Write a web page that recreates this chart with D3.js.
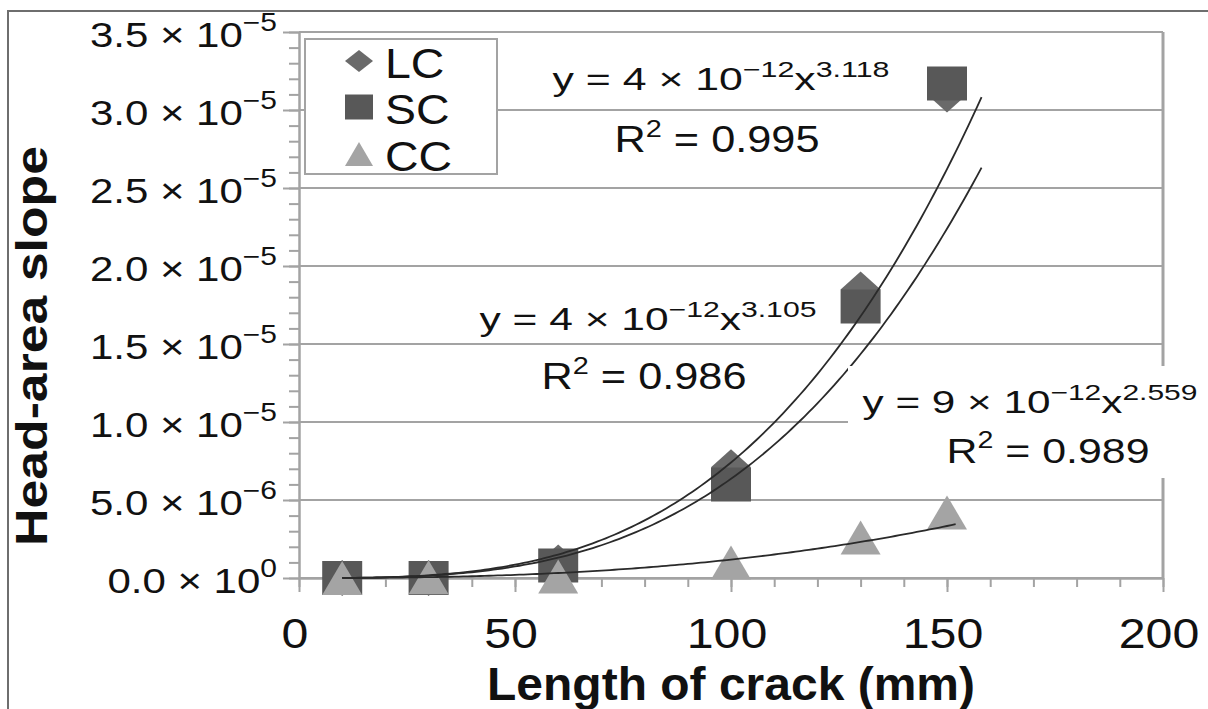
<!DOCTYPE html>
<meta charset="utf-8">
<style>
  body { margin: 0; background: #fff; }
  svg text { font-family: "Liberation Sans", Arial, sans-serif; fill: #111; }
  .grid line { stroke: #a3a3a3; stroke-width: 2; }
  .axis path, .axis line { stroke: #a3a3a3; stroke-width: 2; }
  .trend { fill: none; stroke: #2a2a2a; stroke-width: 1.8; }
</style>
<body></body>
<script src="https://cdn.jsdelivr.net/npm/d3@7"></script>
<script>

// data
var crackLength = [10, 30, 60, 100, 130, 150];
var lcSlope = [0, 0, 1.0e-6, 7.1e-6, 18.5e-6, 31.0e-6];
var scSlope = [0, 0, 0.8e-6, 6.0e-6, 17.4e-6, 31.7e-6];
var ccSlope = [0, 0.05e-6, 0.1e-6, 1.0e-6, 2.6e-6, 4.2e-6];

var seriesNames = ["LC", "SC", "CC"];

var xTicks = [0, 50, 100, 150, 200];
var yTicks = [0, 5e-6, 1e-5, 1.5e-5, 2e-5, 2.5e-5, 3e-5, 3.5e-5];
var yTickMant = ["0.0", "5.0", "1.0", "1.5", "2.0", "2.5", "3.0", "3.5"];
var yTickExp = ["0", "\u22126", "\u22125", "\u22125", "\u22125", "\u22125", "\u22125", "\u22125"];

// power trendlines y = a x^b (coefficients as drawn)
var fitSeries = ["SC", "LC", "CC"];
var fitA = [4.3e-12, 3.92e-12, 9e-12];
var fitB = [3.118, 3.105, 2.559];
var fitEnd = [158, 158, 152];
var fitCoefText = ["4", "4", "9"];
var fitExpText = ["3.118", "3.105", "2.559"];
var fitR2Text = ["0.995", "0.986", "0.989"];

var W = 1208, H = 709;
var plot = {left: 299, right: 1163, top: 32, bottom: 578};

var svg = d3.select("body").append("svg")
    .attr("width", W).attr("height", H);

svg.append("rect").attr("width", W).attr("height", H).attr("fill", "#fff");

// outer frame
svg.append("path")
    .attr("d", "M8," + H + "V11H" + W)
    .attr("fill", "none").attr("stroke", "#6e6e6e").attr("stroke-width", 2);

var x = d3.scaleLinear().domain([0, 200]).range([plot.left, plot.right]);
var y = d3.scaleLinear().domain([0, 3.5e-5]).range([plot.bottom, plot.top]);

// gridlines
svg.append("g").attr("class", "grid")
  .selectAll("line").data(yTicks).enter().append("line")
    .attr("x1", plot.left).attr("x2", plot.right)
    .attr("y1", function(d) { return y(d); })
    .attr("y2", function(d) { return y(d); });

// right border
svg.append("line")
    .attr("x1", plot.right).attr("x2", plot.right)
    .attr("y1", plot.top).attr("y2", plot.bottom)
    .attr("stroke", "#a3a3a3").attr("stroke-width", 3);

// axes: major + minor ticks
svg.append("g").attr("class", "axis")
    .attr("transform", "translate(" + plot.left + ",0)")
    .call(d3.axisLeft(y).tickValues(d3.range(0, 36).map(function(i) { return i * 1e-6; }))
      .tickSize(10).tickSizeOuter(0).tickFormat(""));
svg.append("g").attr("class", "axis")
    .attr("transform", "translate(" + plot.left + ",0)")
    .call(d3.axisLeft(y).tickValues(yTicks).tickSize(16).tickSizeOuter(0).tickFormat(""));

svg.append("g").attr("class", "axis")
    .attr("transform", "translate(0," + plot.bottom + ")")
    .call(d3.axisBottom(x).tickValues(d3.range(0, 201, 10)).tickSize(9).tickSizeOuter(0).tickFormat(""));
svg.append("g").attr("class", "axis")
    .attr("transform", "translate(0," + plot.bottom + ")")
    .call(d3.axisBottom(x).tickValues(xTicks).tickSize(14).tickSizeOuter(0).tickFormat(""));

svg.selectAll(".axis text").remove();

// y tick labels  "m × 10^e"
yTicks.forEach(function(v, i) {
  var t = svg.append("text")
      .attr("text-anchor", "end")
      .attr("transform", "translate(277," + (y(v) + 15) + ") scale(1.2,1)")
      .style("font-size", "35px");
  t.append("tspan").text(yTickMant[i] + " \u00d7 10");
  t.append("tspan").attr("dy", -16).style("font-size", "25px").text(yTickExp[i]);
});

// x tick labels
svg.selectAll("text.xt").data(xTicks).enter().append("text")
    .attr("class", "xt")
    .attr("text-anchor", "middle")
    .attr("transform", function(d) { return "translate(" + (x(d) - 4) + ",648) scale(1.15,1)"; })
    .style("font-size", "42px")
    .text(function(d) { return d; });

// markers
function shape(kind, w, h) {
  return {draw: function(ctx) {
    var a = w / 2, b = h / 2;
    if (kind === "diamond") {
      ctx.moveTo(0, -b); ctx.lineTo(a, 0); ctx.lineTo(0, b); ctx.lineTo(-a, 0); ctx.closePath();
    } else if (kind === "square") {
      ctx.rect(-a, -b, w, h);
    } else {
      ctx.moveTo(0, -b); ctx.lineTo(a, b); ctx.lineTo(-a, b); ctx.closePath();
    }
  }};
}

var markKind = {LC: "diamond", SC: "square", CC: "triangle"};
var markFill = {LC: "#6a6a6a", SC: "#585858", CC: "#a4a4a4"};
var markSize = {LC: [40, 36], SC: [40, 34], CC: [40, 34]};
var legendSize = {LC: [28, 22], SC: [28, 25], CC: [28, 24]};
var values = {LC: lcSlope, SC: scSlope, CC: ccSlope};

seriesNames.forEach(function(name) {
  var sym = d3.symbol().type(shape(markKind[name], markSize[name][0], markSize[name][1]));
  svg.append("g").selectAll("path").data(crackLength).enter().append("path")
      .attr("d", sym())
      .attr("fill", markFill[name])
      .attr("transform", function(d, i) {
        return "translate(" + x(d) + "," + y(values[name][i]) + ")";
      });
});

// trendlines
var line = d3.line().x(function(d) { return x(d[0]); }).y(function(d) { return y(d[1]); });
fitSeries.forEach(function(name, k) {
  var pts = d3.range(10, fitEnd[k] + 0.01, 1).map(function(v) {
    return [v, fitA[k] * Math.pow(v, fitB[k])];
  });
  svg.append("path").attr("class", "trend").attr("d", line(pts));
});

// fit text helper: centre cx, baseline by, stretched to given width
function fitText(cx, by, width, parts, bold) {
  var t = svg.append("text")
      .attr("text-anchor", "middle")
      .style("font-weight", bold ? "bold" : null);
  parts.forEach(function(p) {
    t.append("tspan").attr("dy", p[2] || 0).style("font-size", p[1] + "px").text(p[0]);
  });
  var len = t.node().getComputedTextLength();
  t.attr("transform", "translate(" + cx + "," + by + ") scale(" + (width / len) + ",1)");
  return t;
}

// label box behind CC equation
svg.append("rect")
    .attr("x", 848).attr("y", 366).attr("width", 360).attr("height", 112)
    .attr("fill", "#fff");

var eqPos = [
  {cx: 721, by: 90, w: 337, rcx: 717, rby: 152, rw: 205},
  {cx: 648, by: 330, w: 337, rcx: 644, rby: 389, rw: 205},
  {cx: 1030, by: 413, w: 335, rcx: 1048, rby: 463, rw: 203}
];

fitSeries.forEach(function(name, k) {
  var p = eqPos[k];
  fitText(p.cx, p.by, p.w, [
    ["y = " + fitCoefText[k] + " \u00d7 10", 31],
    ["\u221212", 22, -13],
    ["x", 31, 13],
    [fitExpText[k], 22, -13]
  ]);
  fitText(p.rcx, p.rby, p.rw, [
    ["R", 36],
    ["2", 24, -15],
    [" = " + fitR2Text[k], 36, 15]
  ]);
});

// legend
svg.append("rect")
    .attr("x", 305).attr("y", 39).attr("width", 192).attr("height", 135)
    .attr("fill", "#fff").attr("stroke", "#a3a3a3").attr("stroke-width", 2);

var legendRows = [61, 107, 154];
seriesNames.forEach(function(name, i) {
  var sym = d3.symbol().type(shape(markKind[name], legendSize[name][0], legendSize[name][1]));
  svg.append("path")
      .attr("d", sym())
      .attr("fill", markFill[name])
      .attr("transform", "translate(359," + legendRows[i] + ")");
  svg.append("text")
      .attr("transform", "translate(385," + (legendRows[i] + 17) + ") scale(1.08,1)")
      .style("font-size", "43px")
      .text(name);
});

// axis titles
fitText(731, 700, 488, [["Length of crack (mm)", 46]], true);
var yt = fitText(0, 0, 400, [["Head-area slope", 44]], true);
yt.attr("transform", "translate(47,346) rotate(-90) " + yt.attr("transform").replace("translate(0,0) ", ""));

</script>
